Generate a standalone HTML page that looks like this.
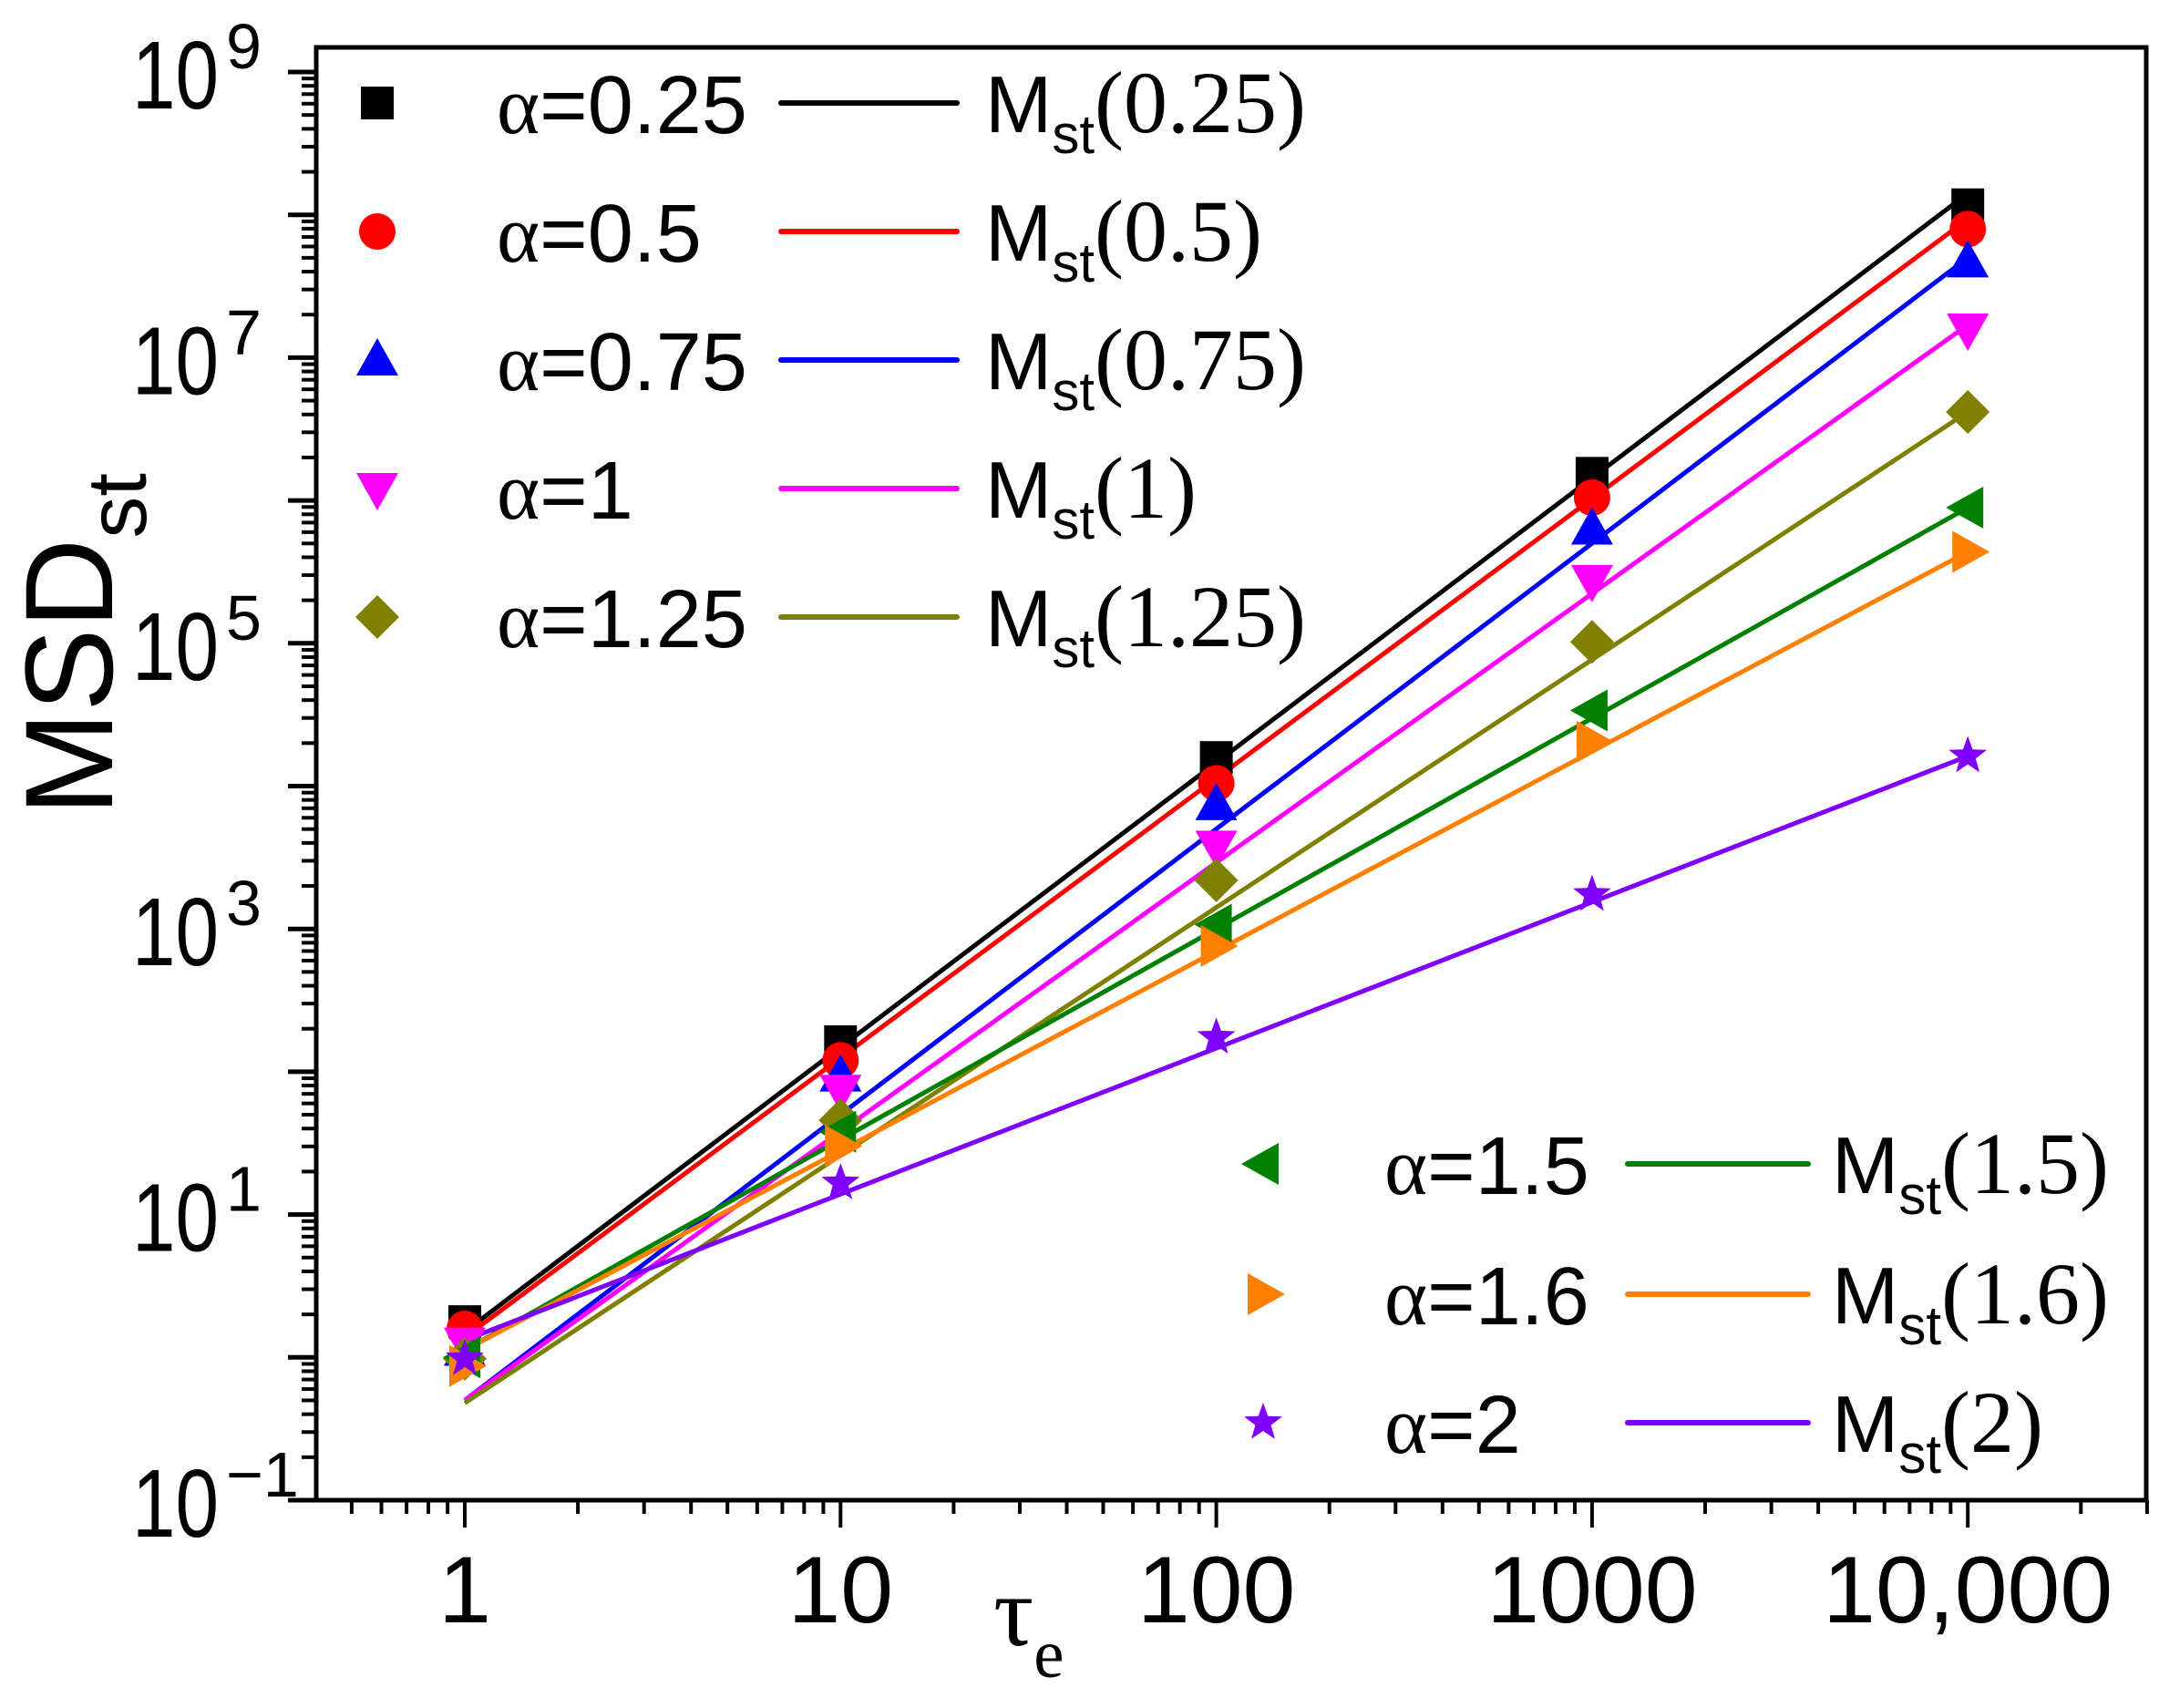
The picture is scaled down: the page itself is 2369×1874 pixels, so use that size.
<!DOCTYPE html>
<html><head><meta charset="utf-8"><style>
html,body{margin:0;padding:0;background:#fff;}
svg{display:block;}
text{font-family:"Liberation Sans",sans-serif;}
.serif{font-family:"Liberation Serif",serif;}
</style></head>
<body>
<svg id="chart" width="2369" height="1874" viewBox="0 0 2369 1874" xmlns="http://www.w3.org/2000/svg">
<rect width="2369" height="1874" fill="#fff"/>
<g id="plot"></g>
</svg>
<script>
const categories = [1, 10, 100, 1000, 10000];
const seriesNames = ["α=0.25","α=0.5","α=0.75","α=1","α=1.25","α=1.5","α=1.6","α=2"];
const fitNames = ["0.25","0.5","0.75","1","1.25","1.5","1.6","2"];
const colors = ["#000000","#ff0000","#0000ff","#ff00ff","#808000","#008000","#ff8000","#8000ff"];
// point values (log10 of MSD)
const s025 = [0.25, 2.21, 4.20, 6.19, 8.07];
const s05 = [0.20, 2.08, 4.02, 6.02, 7.90];
const s075 = [0.05, 1.97, 3.87, 5.80, 7.67];
const s1 = [0.10, 1.87, 3.58, 5.44, 7.20];
const s125 = [-0.01, 1.66, 3.34, 5.01, 6.62];
const s15 = [0.00, 1.58, 3.03, 4.53, 5.95];
const s16 = [-0.06, 1.48, 2.88, 4.31, 5.64];
const s2 = [-0.01, 1.22, 2.24, 3.24, 4.21];
const pointSeries = [s025, s05, s075, s1, s125, s15, s16, s2];
// fitted line endpoints (log10 at tau=1 and tau=10000)
const fitStart = [0.18, 0.14, -0.30, -0.30, -0.32, 0.05, 0.05, 0.12];
const fitEnd = [8.15, 7.97, 7.70, 7.23, 6.62, 5.95, 5.64, 4.21];
const yTickLabels = ["9","7","5","3","1","−1"];
const xTickLabels = ["1","10","100","1000","10,000"];

const NS = "http://www.w3.org/2000/svg";
const g = document.getElementById("plot");
const L = 347, R = 2355, T = 52, B = 1646;
const xLog0 = 510, xDec = 412.3;
const yTop = 79, yDec = 156.7;
function xs(v){ return xLog0 + Math.log10(v) * xDec; }
function ysLog(lg){ return yTop + (9 - lg) * yDec; }
function el(tag, attrs, parent){
  const e = document.createElementNS(NS, tag);
  for (const k in attrs) e.setAttribute(k, attrs[k]);
  (parent || g).appendChild(e);
  return e;
}

// Fit lines
const linesG = el("g", {});


for (let i = 0; i < fitStart.length; i++) {
  const ln = el("line", {x1: xs(1), y1: ysLog(fitStart[i]), x2: xs(10000), y2: ysLog(fitEnd[i]), stroke: colors[i], "stroke-width": 5}, linesG);
  
  
}

function marker(kind, cx, cy, color, parent){
  let m;
  const s = 18;
  if (kind === 0) m = el("rect", {x: cx - s, y: cy - s, width: 2*s, height: 2*s, fill: color}, parent);
  else if (kind === 1) m = el("ellipse", {cx: cx, cy: cy, rx: 20, ry: 20, fill: color}, parent);
  else if (kind === 2) m = el("polygon", {points: `${cx},${cy-24} ${cx+23},${cy+17} ${cx-23},${cy+17}`, fill: color}, parent);
  else if (kind === 3) m = el("polygon", {points: `${cx},${cy+24} ${cx+23},${cy-17} ${cx-23},${cy-17}`, fill: color}, parent);
  else if (kind === 4) m = el("polygon", {points: `${cx},${cy-24} ${cx+24},${cy} ${cx},${cy+24} ${cx-24},${cy}`, fill: color}, parent);
  else if (kind === 5) m = el("polygon", {points: `${cx-24},${cy} ${cx+17},${cy-23} ${cx+17},${cy+23}`, fill: color}, parent);
  else if (kind === 6) m = el("polygon", {points: `${cx+24},${cy} ${cx-17},${cy-23} ${cx-17},${cy+23}`, fill: color}, parent);
  else {
    let p = [];
    for (let k = 0; k < 10; k++) {
      const r = k % 2 ? 9 : 22, a = -Math.PI/2 + k*Math.PI/5;
      p.push((cx + r*Math.cos(a)).toFixed(1) + "," + (cy + r*Math.sin(a)).toFixed(1));
    }
    m = el("polygon", {points: p.join(" "), fill: color}, parent);
  }
  return m;
}

// Points
for (let i = 0; i < pointSeries.length; i++) {
  const sg = el("g", {});
  
  
  for (let j = 0; j < categories.length; j++) {
    const m = marker(i, xs(categories[j]), ysLog(pointSeries[i][j]), colors[i], sg);
    
    
  }
}

// Axes frame
const frame = el("rect", {x: L, y: T, width: R - L, height: B - T, fill: "none", stroke: "#000", "stroke-width": 5});



// Y ticks
const yAxis = el("g", {});


for (let d = -1; d <= 9; d++) {
  const y = ysLog(d);
  el("line", {x1: L - 31, x2: L, y1: y, y2: y, stroke: "#000", "stroke-width": 5}, yAxis);
  if (d < 9) for (let k = 2; k <= 9; k++) {
    const yy = ysLog(d + Math.log10(k));
    el("line", {x1: L - 16, x2: L, y1: yy, y2: yy, stroke: "#000", "stroke-width": 4}, yAxis);
  }
}
for (let i = 0; i < yTickLabels.length; i++) {
  const d = 9 - 2*i;
  const y = ysLog(d);
  const t = el("text", {x: 240, y: y + 40, "font-size": 106, "text-anchor": "end", textLength: 95, lengthAdjust: "spacingAndGlyphs"}, yAxis);
  t.textContent = "10";
  
  
  const sup = el("text", {x: 248, y: y - 4, "font-size": 70}, yAxis);
  sup.textContent = yTickLabels[i];
  
  
}

// X ticks
const xAxis = el("g", {});


for (let d = -1; d <= 4; d++) {
  for (let k = 1; k <= 9; k++) {
    const x = xs(Math.pow(10, d) * k);
    if (x < L - 1 || x > R + 1) continue;
    el("line", {x1: x, x2: x, y1: B, y2: B + (k === 1 ? 30 : 15), stroke: "#000", "stroke-width": 4}, xAxis);
  }
}
for (let i = 0; i < xTickLabels.length; i++) {
  const t = el("text", {x: xs(categories[i]), y: 1780, "font-size": 104, "text-anchor": "middle"}, xAxis);
  t.textContent = xTickLabels[i];
  
  
}

// Axis titles
const xt = el("text", {x: 1090, y: 1805, "font-size": 110, class: "serif"});
xt.innerHTML = 'τ<tspan font-size="75" dy="35">e</tspan>';


const yt = el("text", {transform: "translate(123,895) rotate(-90)", "font-size": 137});
yt.innerHTML = 'MSD<tspan font-size="92" dy="37">st</tspan>';



// Legends
function legendEntry(i, sx, ty, tx, lx1, lx2, mx){
  const lg = el("g", {});
  
  
  marker(i, sx, ty, colors[i], lg);
  const t = el("text", {x: tx, y: ty + 33, "font-size": 90}, lg);
  t.innerHTML = '<tspan class="serif" font-family="Liberation Serif">α</tspan>' + seriesNames[i].slice(1);
  el("line", {x1: lx1, x2: lx2, y1: ty, y2: ty, stroke: colors[i], "stroke-width": 6, "stroke-linecap": "round"}, lg);
  const m = el("text", {x: mx, y: ty + 32, "font-size": 88}, lg);
  m.innerHTML = 'M<tspan font-size="60" dy="23">st</tspan><tspan font-family="Liberation Serif" font-size="96" dy="-23">(' + fitNames[i] + ')</tspan>';
}
const upperRows = [113, 254, 395, 536, 677];
for (let i = 0; i < 5; i++) legendEntry(i, 414, upperRows[i], 545, 857, 1050, 1081);
const lowerRows = [1277, 1420, 1561];
for (let i = 5; i < 8; i++) legendEntry(i, 1386, lowerRows[i-5], 1519, 1786, 1984, 2010);
</script>
</body></html>
